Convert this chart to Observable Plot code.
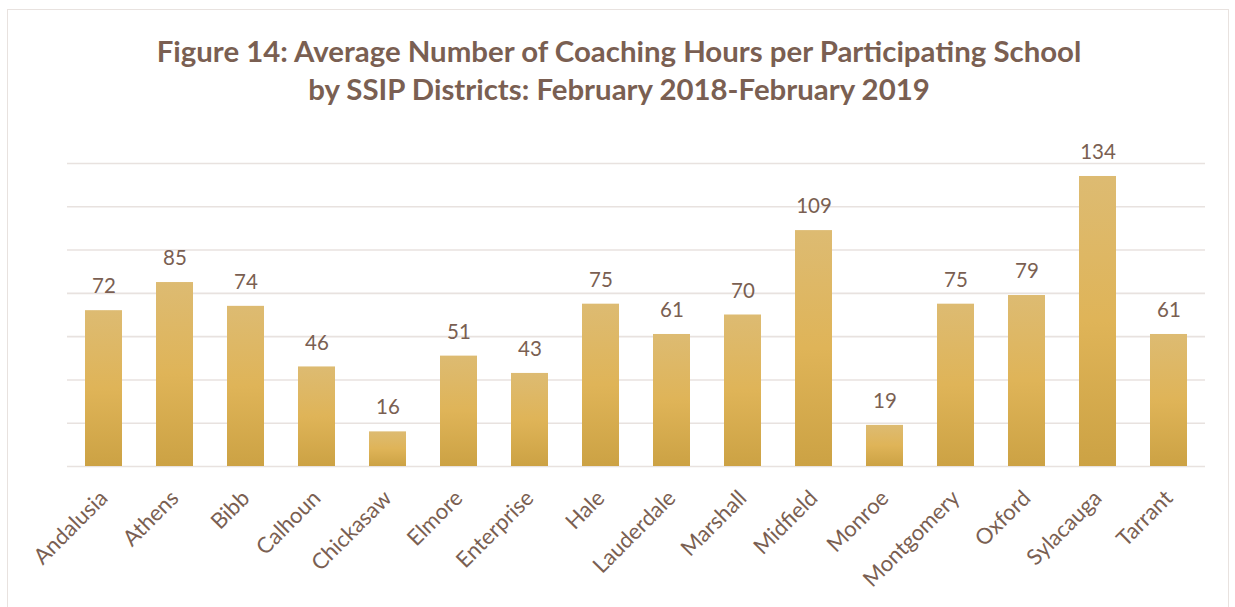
<!DOCTYPE html>
<html>
<head>
<meta charset="utf-8">
<script src="https://cdn.jsdelivr.net/npm/d3@7"></script>
<script src="https://cdn.jsdelivr.net/npm/@observablehq/plot@0.6"></script>
<style>
  html, body { margin: 0; padding: 0; background: #fff; }
  body { width: 1235px; height: 607px; position: relative; overflow: hidden; font-family: Lato, "Open Sans", sans-serif; }
  #frame { position: absolute; left: 7px; top: 9px; width: 1222px; height: 640px; border: 1.5px solid #e8e2df; box-sizing: border-box; }
  #title { position: absolute; left: 0; top: 32px; width: 1238px; text-align: center; color: #7a5f52; font-weight: 700; font-size: 29.4px; line-height: 38px; }
  #chart { position: absolute; left: 0; top: 0; }
</style>
</head>
<body>
<div id="frame"></div>
<div id="title">Figure 14: Average Number of Coaching Hours per Participating School<br>by SSIP Districts: February 2018-February 2019</div>
<div id="chart"></div>
<script>
const districts = ["Andalusia","Athens","Bibb","Calhoun","Chickasaw","Elmore","Enterprise","Hale","Lauderdale","Marshall","Midfield","Monroe","Montgomery","Oxford","Sylacauga","Tarrant"];
const hours = [72,85,74,46,16,51,43,75,61,70,109,19,75,79,134,61];
const gridTicks = [0,20,40,60,80,100,120,140];

const data = districts.map((d, i) => ({district: d, hours: hours[i]}));
const brown = "#7a5f52";

const plot = Plot.plot({
  width: 1235,
  height: 607,
  marginTop: 163,
  marginBottom: 141,
  marginLeft: 67,
  marginRight: 30,
  style: {fontFamily: "Lato, 'Open Sans', sans-serif", background: "transparent", overflow: "visible"},
  x: {domain: districts, paddingInner: 0.48, paddingOuter: 0.24, label: null},
  y: {domain: [0, 140], label: null, axis: null},
  marks: [
    Plot.ruleY(gridTicks, {stroke: "#e8e2df", strokeWidth: 1.6}),
    Plot.barY(data, {x: "district", y: "hours", fill: "url(#gold)"}),
    Plot.text(data, {x: "district", y: "hours", text: d => String(d.hours), dy: -24, fill: brown, fontSize: 20.5}),
    Plot.axisX({tickSize: 0, tickPadding: 28, tickRotate: -45, fontSize: 22, color: brown, fill: brown, label: null}),
  ]
});

const svg = d3.select(plot);
const defs = svg.insert("defs", ":first-child");
const g = defs.append("linearGradient").attr("id", "gold").attr("x1", 0).attr("y1", 0).attr("x2", 0).attr("y2", 1);
g.append("stop").attr("offset", "0%").attr("stop-color", "#ddbb72");
g.append("stop").attr("offset", "50%").attr("stop-color", "#dfb458");
g.append("stop").attr("offset", "100%").attr("stop-color", "#cca244");

document.getElementById("chart").appendChild(plot);
</script>
</body>
</html>
